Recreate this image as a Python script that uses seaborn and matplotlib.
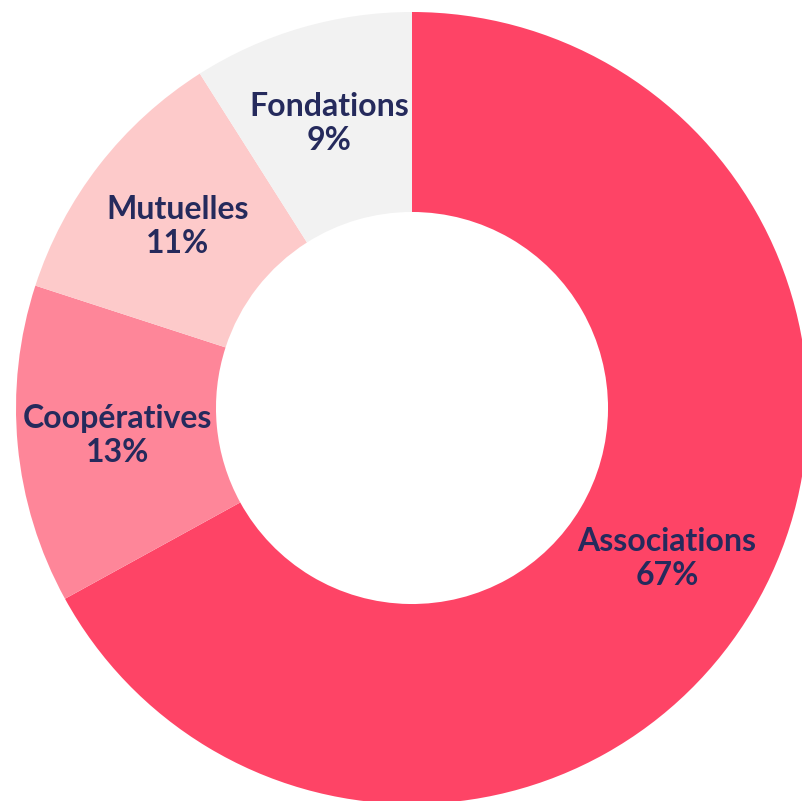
import matplotlib
matplotlib.use("Agg")
import matplotlib.pyplot as plt
import seaborn as sns

# ── data ─────────────────────────────────────
categories = ["Associations", "Coopératives", "Mutuelles", "Fondations"]
shares = [67, 13, 11, 9]
colors = ["#FE4466", "#FE8699", "#FDCACA", "#F2F2F2"]
TEXT_COLOR = "#252A5C"

sns.set_theme(style="white")
plt.rcParams["font.family"] = ["Lato", "DejaVu Sans"]

fig = plt.figure(figsize=(8.02, 8.01), dpi=100)
ax = fig.add_axes([0, 0, 1, 1])

R = 396.0
cx, cy = 412.0, 408.0
wedges, texts = ax.pie(
    shares,
    colors=colors,
    startangle=90,
    counterclock=False,
    radius=1.0,
    wedgeprops=dict(width=0.505, edgecolor="none"),
    labels=[f"{c}\n{s}%" for c, s in zip(categories, shares)],
    labeldistance=0.748,
    textprops=dict(color=TEXT_COLOR, fontsize=23, fontweight="bold",
                   ha="center", va="center", linespacing=1.2),
)
for t in texts:
    t.set_horizontalalignment("center")

ax.set_xlim(-cx / R, (802 - cx) / R)
ax.set_ylim(-(801 - cy) / R, cy / R)
ax.set_aspect("equal")
ax.axis("off")

fig.savefig("out.png", dpi=100)
plt.close(fig)
